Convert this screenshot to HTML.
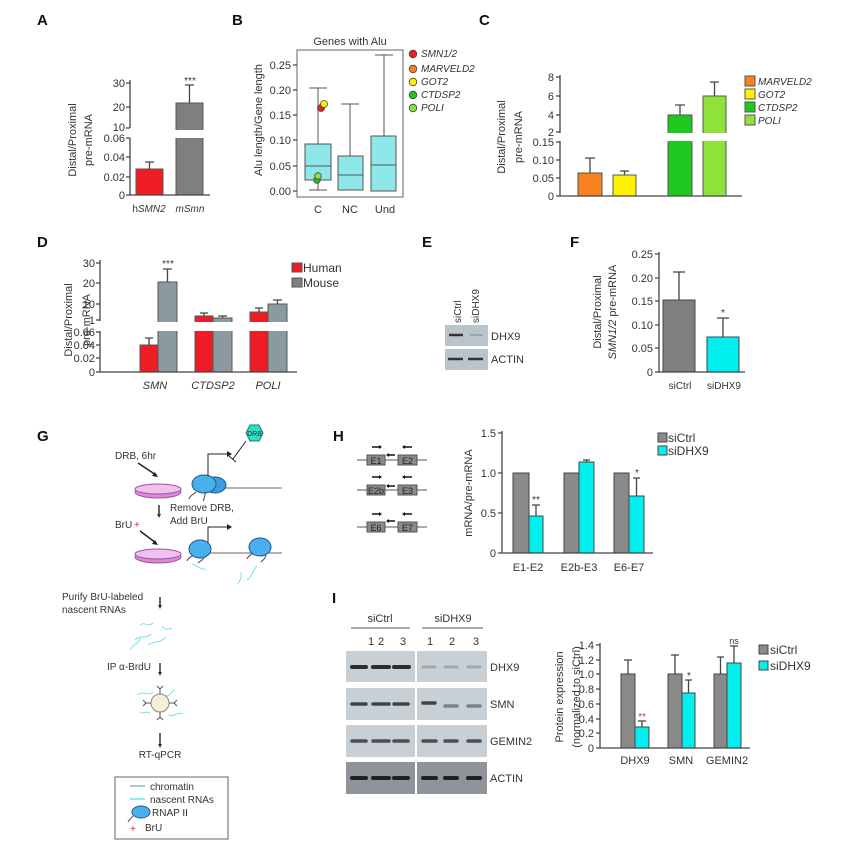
<!DOCTYPE html>
<html><head><meta charset="utf-8"><style>
html,body{margin:0;padding:0;background:#fff;}
svg{display:block;font-family:"Liberation Sans",sans-serif;}
.t{font-size:11px;fill:#333;}
.s{font-size:10px;fill:#333;}
.L{font-size:15px;font-weight:bold;fill:#111;}
.ax{stroke:#444;stroke-width:1.3;fill:none;}
.e{stroke:#444;stroke-width:1.3;fill:none;}
.i{font-style:italic;}
</style></head><body>
<svg width="865" height="853" viewBox="0 0 865 853" xmlns="http://www.w3.org/2000/svg">
<!-- ===== A ===== -->
<text class="L" x="37" y="25">A</text>
<text class="t" transform="translate(76,140) rotate(-90)" text-anchor="middle">Distal/Proximal</text>
<text class="t" transform="translate(92,140) rotate(-90)" text-anchor="middle">pre-mRNA</text>
<rect x="136" y="169" width="27" height="26" fill="#ee1c25" stroke="#555"/>
<rect x="176" y="103" width="27" height="92" fill="#7f7f7f" stroke="#555"/>
<rect x="170" y="130" width="40" height="8" fill="#fff"/>
<path class="e" d="M149.5 169V162M145 162h9M189.5 103V85M185 85h9"/>
<text class="s" x="190" y="84" text-anchor="middle">***</text>
<path class="ax" d="M130 80V128M130 138V195H210M126 83h4M126 107h4M126 128h4M126 138h4M126 157h4M126 177h4M126 195h4"/>
<g class="t" text-anchor="end"><text x="125" y="87">30</text><text x="125" y="111">20</text><text x="125" y="131">10</text><text x="125" y="142">0.06</text><text x="125" y="161">0.04</text><text x="125" y="181">0.02</text><text x="125" y="199">0</text></g>
<text class="s" x="149" y="212" text-anchor="middle">h<tspan class="i">SMN2</tspan></text>
<text class="s i" x="190" y="212" text-anchor="middle">mSmn</text>
<!-- ===== B ===== -->
<text class="L" x="232" y="25">B</text>
<text class="t" x="350" y="45" text-anchor="middle">Genes with Alu</text>
<text class="t" transform="translate(262,120) rotate(-90)" text-anchor="middle">Alu length/Gene length</text>
<rect x="297" y="50" width="106" height="147" fill="none" stroke="#666"/>
<g stroke="#555" stroke-width="1" fill="#8ee8ea">
<path d="M318 180V190M318 144V88M309 88h18M309 190h18" fill="none"/>
<rect x="305" y="144" width="26" height="36"/>
<path d="M305 166h26" fill="none"/>
<path d="M350 173V190M350 104V173M341 104h18M341 190h18" fill="none"/>
<rect x="338" y="156" width="25" height="34"/>
<path d="M338 175h25" fill="none"/>
<path d="M384 136V55M375 55h18" fill="none"/>
<rect x="371" y="136" width="25" height="55"/>
<path d="M371 165h25" fill="none"/>
</g>
<g stroke="#444" stroke-width="0.8">
<circle cx="321" cy="108" r="3.5" fill="#ee1c25"/><circle cx="324" cy="104" r="3.5" fill="#fff200"/>
<circle cx="317" cy="180" r="3.3" fill="#1ec81e"/><circle cx="318" cy="176" r="3.3" fill="#8ee23a"/>
<circle cx="413" cy="54" r="3.8" fill="#ee1c25"/><circle cx="413" cy="69" r="3.8" fill="#f7821e"/><circle cx="413" cy="82" r="3.8" fill="#fff200"/><circle cx="413" cy="95" r="3.8" fill="#1ec81e"/><circle cx="413" cy="108" r="3.8" fill="#8ee23a"/>
</g>
<g class="s i"><text x="421" y="57">SMN1/2</text><text x="421" y="72">MARVELD2</text><text x="421" y="85">GOT2</text><text x="421" y="98">CTDSP2</text><text x="421" y="111">POLI</text></g>
<path class="ax" d="M293 65h4M293 90h4M293 115h4M293 140h4M293 166h4M293 191h4"/>
<g class="t" text-anchor="end"><text x="291" y="69">0.25</text><text x="291" y="94">0.20</text><text x="291" y="119">0.15</text><text x="291" y="144">0.10</text><text x="291" y="170">0.05</text><text x="291" y="195">0.00</text></g>
<g class="t" text-anchor="middle"><text x="318" y="213">C</text><text x="350" y="213">NC</text><text x="385" y="213">Und</text></g>
<!-- ===== C ===== -->
<text class="L" x="479" y="25">C</text>
<text class="t" transform="translate(505,137) rotate(-90)" text-anchor="middle">Distal/Proximal</text>
<text class="t" transform="translate(522,137) rotate(-90)" text-anchor="middle">pre-mRNA</text>
<g stroke="#555">
<rect x="578" y="173" width="24" height="23" fill="#f7821e"/>
<rect x="613" y="175" width="23" height="21" fill="#fff200"/>
<rect x="668" y="115" width="24" height="81" fill="#1ec81e"/>
<rect x="703" y="96" width="23" height="100" fill="#8ee23a"/>
</g>
<rect x="660" y="133" width="75" height="8" fill="#fff"/>
<path class="e" d="M590 173V158M585 158h10M624.5 175V171M620 171h9M680 115V105M675 105h10M714.5 96V82M710 82h9"/>
<path class="ax" d="M560 75V133M560 141V196H742M556 77h4M556 96h4M556 115h4M556 132h4M556 142h4M556 160h4M556 178h4M556 196h4"/>
<g class="t" text-anchor="end"><text x="554" y="81">8</text><text x="554" y="100">6</text><text x="554" y="119">4</text><text x="554" y="136">2</text><text x="554" y="146">0.15</text><text x="554" y="164">0.10</text><text x="554" y="182">0.05</text><text x="554" y="200">0</text></g>
<g stroke="#555"><rect x="745" y="76" width="10" height="10" fill="#f7821e"/><rect x="745" y="89" width="10" height="10" fill="#fff200"/><rect x="745" y="102" width="10" height="10" fill="#1ec81e"/><rect x="745" y="115" width="10" height="10" fill="#8ee23a"/></g>
<g class="s i"><text x="758" y="85">MARVELD2</text><text x="758" y="98">GOT2</text><text x="758" y="111">CTDSP2</text><text x="758" y="124">POLI</text></g>
<!-- ===== D ===== -->
<text class="L" x="37" y="247">D</text>
<text class="t" transform="translate(72,320) rotate(-90)" text-anchor="middle">Distal/Proximal</text>
<text class="t" transform="translate(90,320) rotate(-90)" text-anchor="middle">pre-mRNA</text>
<g stroke="#555">
<rect x="140" y="345" width="18" height="27" fill="#ee1c25"/>
<rect x="158" y="282" width="19" height="90" fill="#8a9aa0"/>
<rect x="195" y="316" width="18" height="56" fill="#ee1c25"/>
<rect x="213" y="318" width="19" height="54" fill="#8a9aa0"/>
<rect x="250" y="312" width="18" height="60" fill="#ee1c25"/>
<rect x="268" y="304" width="19" height="68" fill="#8a9aa0"/>
</g>
<rect x="150" y="322" width="145" height="9" fill="#fff"/>
<path class="e" d="M149 345V338M145 338h8M167.5 282V269M163 269h9M204 316V313M200 313h8M222.5 318V316M218 316h9M259 312V308M255 308h8M277.5 304V300M273 300h9"/>
<text class="s" x="168" y="267" text-anchor="middle">***</text>
<path class="ax" d="M100 260V321M100 331V372H297M96 263h4M96 283h4M96 304h4M96 320h4M96 332h4M96 345h4M96 358h4M96 372h4"/>
<g class="t" text-anchor="end"><text x="95" y="267">30</text><text x="95" y="287">20</text><text x="95" y="308">10</text><text x="95" y="324">1</text><text x="95" y="336">0.06</text><text x="95" y="349">0.04</text><text x="95" y="362">0.02</text><text x="95" y="376">0</text></g>
<g class="t i" text-anchor="middle"><text x="155" y="389">SMN</text><text x="213" y="389">CTDSP2</text><text x="268" y="389">POLI</text></g>
<rect x="292" y="263" width="10" height="9" fill="#ee1c25" stroke="#555"/><rect x="292" y="278" width="10" height="9" fill="#7f7f7f" stroke="#555"/>
<text x="303" y="272" style="font-size:12px;fill:#333">Human</text><text x="303" y="287" style="font-size:12px;fill:#333">Mouse</text>
<!-- ===== E ===== -->
<text class="L" x="422" y="247">E</text>
<text class="s" transform="translate(461,323) rotate(-90)">siCtrl</text>
<text class="s" transform="translate(479,323) rotate(-90)">siDHX9</text>
<rect x="445" y="325" width="43" height="21" fill="#b9c4cb"/>
<rect x="445" y="349" width="43" height="21" fill="#b9c4cb"/>
<path d="M449 335h14" stroke="#333" stroke-width="2.5"/><path d="M470 335h13" stroke="#9aa4aa" stroke-width="2"/>
<path d="M448 359h15M468 359h15" stroke="#333" stroke-width="2.5"/>
<text class="t" x="491" y="340">DHX9</text><text class="t" x="491" y="363">ACTIN</text>
<!-- ===== F ===== -->
<text class="L" x="570" y="247">F</text>
<text class="t" transform="translate(601,312) rotate(-90)" text-anchor="middle">Distal/Proximal</text>
<text class="t" transform="translate(616,312) rotate(-90)" text-anchor="middle"><tspan class="i">SMN1/2</tspan> pre-mRNA</text>
<rect x="663" y="300" width="32" height="72" fill="#7f7f7f" stroke="#444"/>
<rect x="707" y="337" width="32" height="35" fill="#00f0f0" stroke="#444"/>
<path class="e" d="M679 300V272M673 272h12M723 337V318M717 318h12"/>
<text class="s" x="723" y="316" text-anchor="middle">*</text>
<path class="ax" d="M659 252V372H745M655 254h4M655 278h4M655 301h4M655 325h4M655 348h4M655 372h4"/>
<g class="t" text-anchor="end"><text x="653" y="258">0.25</text><text x="653" y="282">0.20</text><text x="653" y="305">0.15</text><text x="653" y="329">0.10</text><text x="653" y="352">0.05</text><text x="653" y="376">0</text></g>
<g class="s" text-anchor="middle"><text x="680" y="389">siCtrl</text><text x="724" y="389">siDHX9</text></g>
<!-- ===== G ===== -->
<text class="L" x="37" y="441">G</text>
<text class="s" x="115" y="459">DRB, 6hr</text>
<path d="M138 463L156 475" stroke="#222" stroke-width="1.5"/><path d="M158 477l-6-1 3-4z" fill="#222"/>
<ellipse cx="158" cy="492" rx="23" ry="6" fill="#d98ad8" stroke="#a050a0"/>
<ellipse cx="158" cy="489" rx="23" ry="5" fill="#f0c0ee" stroke="#a050a0"/>
<path d="M215 488H282" stroke="#666"/>
<path d="M196 492c-3 3-6 3-7 7M206 492c-2 4-1 6-3 9" stroke="#446" fill="none"/>
<ellipse cx="215" cy="485" rx="11" ry="8" fill="#3a9ee0" stroke="#1a5a90"/>
<ellipse cx="204" cy="484" rx="12" ry="9" fill="#4ab0ec" stroke="#1a5a90"/>
<path d="M208 476V454H228" stroke="#222" fill="none"/><path d="M232 454l-5-3v6z" fill="#222"/>
<path d="M233 459L246 441M229 456l7 6" stroke="#222" fill="none"/>
<polygon points="246,433 250,425 259,425 263,433 259,441 250,441" fill="#30e0c0" stroke="#1a7a6a"/>
<text x="254.5" y="436" text-anchor="middle" style="font-size:7px;fill:#134">DRB</text>
<path d="M159 505V515" stroke="#333" stroke-width="1.5"/><path d="M159 518l-2-4h4z" fill="#333"/>
<text class="s" x="170" y="511">Remove DRB,</text><text class="s" x="170" y="524">Add BrU</text>
<text class="s" x="115" y="528">BrU</text><text x="134" y="528" style="font-size:10px;fill:#e22">+</text>
<path d="M140 531L156 543" stroke="#222" stroke-width="1.5"/><path d="M158 545l-6-1 3-4z" fill="#222"/>
<ellipse cx="158" cy="557" rx="23" ry="6" fill="#d98ad8" stroke="#a050a0"/>
<ellipse cx="158" cy="554" rx="23" ry="5" fill="#f0c0ee" stroke="#a050a0"/>
<path d="M210 553H282" stroke="#666"/>
<path d="M208 545V527H228" stroke="#222" fill="none"/><path d="M232 527l-5-3v6z" fill="#222"/>
<path d="M193 555c-3 3-5 3-6 6M204 556c0 4-4 5-6 7" stroke="#446" fill="none"/>
<ellipse cx="200" cy="549" rx="11" ry="9" fill="#4ab0ec" stroke="#1a5a90"/>
<path d="M253 553c-3 3-5 3-6 6M266 554c0 4-3 6-5 8" stroke="#446" fill="none"/>
<ellipse cx="260" cy="547" rx="11" ry="9" fill="#4ab0ec" stroke="#1a5a90"/>
<path d="M192 564c6 2 8 6 14 5M257 566c-5 5-4 10-10 14M240 572c3 4 0 8 -2 12" stroke="#6ee8f0" fill="none"/>
<text class="s" x="62" y="600">Purify BrU-labeled</text><text class="s" x="62" y="613">nascent RNAs</text>
<path d="M160 597V606" stroke="#333" stroke-width="1.5"/><path d="M160 609l-2-4h4z" fill="#333"/>
<g stroke="#6ee8f0" fill="none"><path d="M140 625c5-4 8 3 13-2M135 640c6-6 10 0 16-6M148 645c6-5 10 0 18-8M162 626c3 4 6 4 10 2M130 650c4-8 8-4 10-12"/></g>
<text class="s" x="107" y="670">IP α-BrdU</text>
<path d="M160 663V673" stroke="#333" stroke-width="1.5"/><path d="M160 676l-2-4h4z" fill="#333"/>
<g stroke="#6ee8f0" fill="none"><path d="M137 695c6-5 10 2 16-3M168 715c5 3 10-4 15-1M140 712c4 3 6-2 10 1M175 690c-5 2-4 6-9 6"/></g>
<circle cx="160" cy="703" r="9" fill="#f5f0d8" stroke="#888"/>
<path d="M160 694V688M160 712V718M151 703H145M169 703H175M157 686l3 3 3-3M157 720l3-3 3 3M143 700l3 3-3 3M177 700l-3 3 3 3" stroke="#555" fill="none"/>
<path d="M160 733V745" stroke="#333" stroke-width="1.5"/><path d="M160 748l-2-4h4z" fill="#333"/>
<text class="s" x="160" y="758" text-anchor="middle">RT-qPCR</text>
<rect x="115" y="777" width="113" height="62" fill="#fff" stroke="#666"/>
<path d="M130 786H145" stroke="#4a9aa0"/><path d="M130 799H145" stroke="#6ee8f0" stroke-width="1.5"/>
<text class="s" x="150" y="790">chromatin</text><text class="s" x="150" y="803">nascent RNAs</text>
<ellipse cx="141" cy="812" rx="9" ry="6" fill="#4ab0ec" stroke="#1a5a90"/><path d="M133 816c-2 3-4 3-5 6" stroke="#446" fill="none"/>
<text class="s" x="152" y="816">RNAP II</text>
<text x="130" y="832" style="font-size:10px;fill:#e22">+</text><text class="s" x="145" y="831">BrU</text>
<!-- ===== H ===== -->
<text class="L" x="333" y="441">H</text>
<g stroke="#555" fill="#8a8a8a">
<path d="M357 460H427M357 490H427M357 527H427" fill="none"/>
<rect x="367" y="455" width="18" height="10"/><rect x="398" y="455" width="19" height="10"/>
<rect x="367" y="485" width="18" height="10"/><rect x="398" y="485" width="19" height="10"/>
<rect x="367" y="522" width="18" height="10"/><rect x="398" y="522" width="19" height="10"/>
</g>
<g style="font-size:9px;fill:#222" text-anchor="middle"><text x="376" y="464">E1</text><text x="407.5" y="464">E2</text><text x="376" y="494">E2b</text><text x="407.5" y="494">E3</text><text x="376" y="531">E6</text><text x="407.5" y="531">E7</text></g>
<g stroke="#111" stroke-width="1.6">
<path d="M372 447h8M404 447h8M388 455h7M372 477h8M404 477h8M388 486h7M372 514h8M404 514h8M388 521h7"/>
</g>
<g fill="#111"><path d="M382 447l-3-2v4zM402 447l3-2v4zM386 455l3-2v4zM382 477l-3-2v4zM402 477l3-2v4zM386 486l3-2v4zM382 514l-3-2v4zM402 514l3-2v4zM386 521l3-2v4z"/></g>
<text class="t" transform="translate(472,493) rotate(-90)" text-anchor="middle">mRNA/pre-mRNA</text>
<g stroke="#444">
<rect x="513" y="473" width="16" height="80" fill="#8a8a8a"/><rect x="529" y="516" width="14" height="37" fill="#00f0f0"/>
<rect x="564" y="473" width="15" height="80" fill="#8a8a8a"/><rect x="579" y="462" width="15" height="91" fill="#00f0f0"/>
<rect x="614" y="473" width="15" height="80" fill="#8a8a8a"/><rect x="629" y="496" width="15" height="57" fill="#00f0f0"/>
</g>
<path class="e" d="M536 516V505M532 505h8M586.5 462V460M583 460h7M636.5 496V478M633 478h7"/>
<text class="s" x="536" y="503" text-anchor="middle">**</text><text class="s" x="637" y="476" text-anchor="middle">*</text>
<path class="ax" d="M502 431V553H653M498 433h4M498 473h4M498 513h4M498 553h4"/>
<g class="t" text-anchor="end"><text x="496" y="437">1.5</text><text x="496" y="477">1.0</text><text x="496" y="517">0.5</text><text x="496" y="557">0</text></g>
<g class="t" text-anchor="middle"><text x="528" y="571">E1-E2</text><text x="579" y="571">E2b-E3</text><text x="629" y="571">E6-E7</text></g>
<rect x="658" y="433" width="9" height="9" fill="#8a8a8a" stroke="#444"/><rect x="658" y="446" width="9" height="9" fill="#00f0f0" stroke="#444"/>
<text x="668" y="442" style="font-size:12px;fill:#333">siCtrl</text><text x="668" y="455" style="font-size:12px;fill:#333">siDHX9</text>
<!-- ===== I ===== -->
<text class="L" x="332" y="603">I</text>
<text class="t" x="380" y="622" text-anchor="middle">siCtrl</text><text class="t" x="453" y="622" text-anchor="middle">siDHX9</text>
<path d="M351 628H410M422 628H483" stroke="#555"/>
<g class="t" text-anchor="middle"><text x="371" y="645">1</text><text x="381" y="645">2</text><text x="403" y="645">3</text><text x="430" y="645">1</text><text x="452" y="645">2</text><text x="476" y="645">3</text></g>
<g fill="#c8d0d6">
<rect x="346" y="651" width="69" height="31"/><rect x="417" y="651" width="70" height="31"/>
<rect x="346" y="688" width="69" height="32"/><rect x="417" y="688" width="70" height="32"/>
<rect x="346" y="725" width="69" height="32"/><rect x="417" y="725" width="70" height="32"/>
<rect x="346" y="762" width="69" height="32" fill="#8e9499"/><rect x="417" y="762" width="70" height="32" fill="#8e9499"/>
</g>
<g stroke-linecap="round">
<path d="M352 667h14M373 667h16M394 667h15" stroke="#2a2e33" stroke-width="4"/>
<path d="M423 667h12M445 667h12M468 667h12" stroke="#a0a8ae" stroke-width="3"/>
<path d="M352 704h14M373 704h16M394 704h14M423 703h12" stroke="#3e444a" stroke-width="3.5"/>
<path d="M445 706h12M468 706h12" stroke="#7a8288" stroke-width="3.5"/>
<path d="M352 741h14M373 741h16M394 741h14M423 741h13M445 741h12M468 741h12" stroke="#4a5056" stroke-width="3.5"/>
<path d="M352 778h14M373 778h16M394 778h14M423 778h13M445 778h12M468 778h12" stroke="#1e2226" stroke-width="4"/>
</g>
<g class="t"><text x="490" y="671">DHX9</text><text x="490" y="708">SMN</text><text x="490" y="745">GEMIN2</text><text x="490" y="782">ACTIN</text></g>
<text class="t" transform="translate(563,697) rotate(-90)" text-anchor="middle">Protein expression</text>
<text class="t" transform="translate(580,697) rotate(-90)" text-anchor="middle">(normalized to siCtrl)</text>
<g stroke="#444">
<rect x="621" y="674" width="14" height="74" fill="#8a8a8a"/><rect x="635" y="727" width="14" height="21" fill="#00f0f0"/>
<rect x="668" y="674" width="14" height="74" fill="#8a8a8a"/><rect x="682" y="693" width="13" height="55" fill="#00f0f0"/>
<rect x="714" y="674" width="13" height="74" fill="#8a8a8a"/><rect x="727" y="663" width="14" height="85" fill="#00f0f0"/>
</g>
<path class="e" d="M628 674V660M624 660h8M642 727V721M638 721h8M675 674V655M671 655h8M688.5 693V680M685 680h7M720.5 674V657M717 657h7M734 663V646M730 646h8"/>
<text class="s" x="642" y="720" text-anchor="middle" style="fill:#c33">**</text><text class="s" x="689" y="679" text-anchor="middle">*</text><text class="s" x="734" y="644" text-anchor="middle" style="font-size:9px">ns</text>
<path class="ax" d="M600 643V748H750M596 645h4M596 660h4M596 674h4M596 689h4M596 704h4M596 719h4M596 733h4M596 748h4"/>
<g class="t" text-anchor="end"><text x="594" y="649">1.4</text><text x="594" y="664">1.2</text><text x="594" y="678">1.0</text><text x="594" y="693">0.8</text><text x="594" y="708">0.6</text><text x="594" y="723">0.4</text><text x="594" y="737">0.2</text><text x="594" y="752">0</text></g>
<g class="t" text-anchor="middle"><text x="635" y="764">DHX9</text><text x="681" y="764">SMN</text><text x="727" y="764">GEMIN2</text></g>
<rect x="759" y="645" width="9" height="9" fill="#8a8a8a" stroke="#444"/><rect x="759" y="661" width="9" height="9" fill="#00f0f0" stroke="#444"/>
<text x="770" y="654" style="font-size:12px;fill:#333">siCtrl</text><text x="770" y="670" style="font-size:12px;fill:#333">siDHX9</text>
</svg>
</body></html>
